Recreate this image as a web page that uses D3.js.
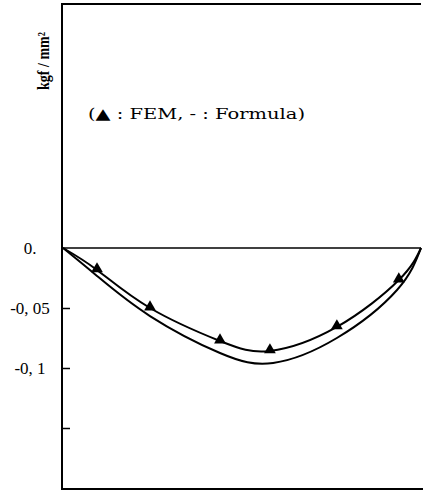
<!DOCTYPE html>
<html>
<head>
<meta charset="utf-8">
<script src="https://cdn.jsdelivr.net/npm/d3@7"></script>
<style>
body { margin: 0; background: #fff; }
svg text { font-family: "Liberation Serif", "DejaVu Serif", serif; fill: #000; }
</style>
</head>
<body>
<div id="chart"></div>
<script>
var width = 423;
var height = 491;

// FEM results (triangles), position along span (0..1) and stress
var femX = [0.095, 0.243, 0.4385, 0.578, 0.765, 0.938];
var femY = [-0.0183, -0.050, -0.0775, -0.0858, -0.0658, -0.0267];

// line through FEM results
var femLineX = [0, 0.095, 0.243, 0.4385, 0.578, 0.765, 0.938, 1];
var femLineY = [0, -0.0183, -0.050, -0.0775, -0.0858, -0.0658, -0.0267, 0];

// formula curve
var formX = [0, 0.095, 0.243, 0.4385, 0.587, 0.765, 0.933, 1];
var formY = [0, -0.0233, -0.0567, -0.0875, -0.0958, -0.075, -0.035, 0];

var tickVals = [-0.05, -0.1, -0.15];
var labelVals = [0, -0.05, -0.1];
var labelText = ["0.", "-0, 05", "-0, 1"];

var svg = d3.select("#chart").append("svg")
  .attr("width", width)
  .attr("height", height);

var x = d3.scaleLinear().domain([0, 1]).range([63, 421]);
var y = d3.scaleLinear().domain([-0.2, 0.2]).range([488, 8]);

// frame
svg.append("line").attr("x1", 62).attr("x2", 62).attr("y1", 4).attr("y2", 489)
  .attr("stroke", "#000").attr("stroke-width", 2);
svg.append("line").attr("x1", 61).attr("x2", 421).attr("y1", 4).attr("y2", 4)
  .attr("stroke", "#000").attr("stroke-width", 2);
svg.append("line").attr("x1", 61).attr("x2", 423).attr("y1", 489).attr("y2", 489)
  .attr("stroke", "#000").attr("stroke-width", 2);

// zero line
svg.append("line")
  .attr("x1", x(0)).attr("x2", x(1))
  .attr("y1", y(0)).attr("y2", y(0))
  .attr("stroke", "#000").attr("stroke-width", 1.5);

// inward ticks
var yAxis = d3.axisRight(y).tickValues(tickVals).tickSize(8).tickFormat("");
var ax = svg.append("g").attr("transform", "translate(62,0)").call(yAxis);
ax.select(".domain").remove();
ax.selectAll("line").attr("stroke", "#000").attr("stroke-width", 1.5);

// tick labels
svg.selectAll("text.lab")
  .data(labelVals)
  .enter().append("text")
  .attr("class", "lab")
  .attr("x", 30)
  .attr("y", function(d) { return y(d); })
  .attr("dy", "0.35em")
  .attr("text-anchor", "middle")
  .style("font-size", "17px")
  .text(function(d, i) { return labelText[i]; });

// unit label
svg.append("text")
  .attr("transform", "translate(49,61) rotate(-90)")
  .attr("text-anchor", "middle")
  .attr("textLength", 58)
  .attr("lengthAdjust", "spacingAndGlyphs")
  .style("font-size", "16px")
  .style("font-weight", "bold")
  .text("kgf / mm²");

// legend
svg.append("text")
  .attr("x", 88)
  .attr("y", 119)
  .attr("textLength", 217)
  .attr("lengthAdjust", "spacingAndGlyphs")
  .style("font-family", "'DejaVu Serif', serif")
  .style("font-size", "15px")
  .text("(▲ : FEM, - : Formula)");

var line = d3.line()
  .x(function(d) { return x(d[0]); })
  .y(function(d) { return y(d[1]); })
  .curve(d3.curveNatural);

svg.append("path")
  .datum(d3.zip(formX, formY))
  .attr("d", line)
  .attr("fill", "none")
  .attr("stroke", "#000")
  .attr("stroke-width", 2);

svg.append("path")
  .datum(d3.zip(femLineX, femLineY))
  .attr("d", line)
  .attr("fill", "none")
  .attr("stroke", "#000")
  .attr("stroke-width", 2);

svg.selectAll("path.fem")
  .data(d3.zip(femX, femY))
  .enter().append("path")
  .attr("class", "fem")
  .attr("d", d3.symbol(d3.symbolTriangle, 60))
  .attr("transform", function(d) { return "translate(" + x(d[0]) + "," + (y(d[1]) - 1) + ")"; })
  .attr("fill", "#000");
</script>
</body>
</html>
